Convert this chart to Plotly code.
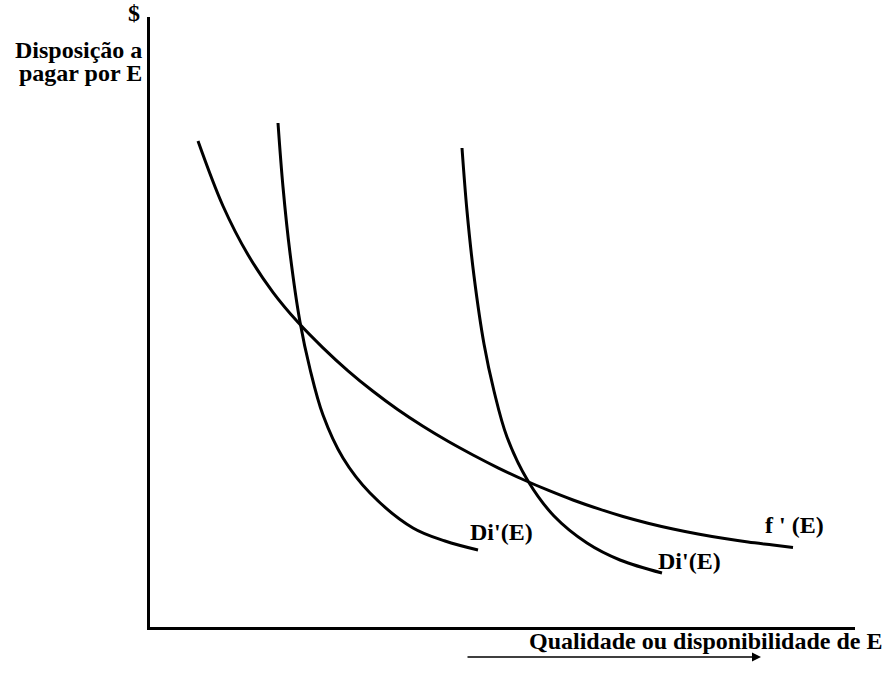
import plotly.graph_objects as go

# Curves (x = quality/availability of E, y = willingness to pay), arbitrary units
f_x = [48, 73, 98, 123, 148, 173, 198, 223, 248, 273, 298, 323, 348, 373, 398, 423, 448,
       473, 498, 523, 548, 573, 598, 623, 643]
f_y = [486, 421, 372.2, 334.7, 304.7, 279.2, 256.2, 235.7, 217.2, 200.7, 185.7, 172, 159.2,
       147.5, 136.8, 127, 118.3, 110.5, 103.8, 98, 93, 88.7, 85, 82, 79.5]

d1_x = [128, 133, 140, 150, 160, 173, 193, 220, 263, 295, 328]
d1_y = [504, 440, 374, 305, 258, 212, 169, 134, 99, 86, 77]

d2_x = [312, 317, 324, 334, 344, 357, 378, 404, 437, 470, 512]
d2_y = [479, 416, 351, 283, 236, 190, 146, 111, 84, 67, 54]

labels = ["f ' (E)", "Di'(E)", "Di'(E)"]
y_title_top = "$"
y_title_1 = "Disposição a"
y_title_2 = "pagar por E"
x_title = "Qualidade ou disponibilidade de E"

FONT = "Liberation Serif"
line_style = dict(color="black", width=3, shape="spline", smoothing=1.0)

fig = go.Figure()
fig.add_trace(go.Scatter(x=f_x, y=f_y, mode="lines", line=line_style, hoverinfo="skip"))
fig.add_trace(go.Scatter(x=d1_x, y=d1_y, mode="lines", line=line_style, hoverinfo="skip"))
fig.add_trace(go.Scatter(x=d2_x, y=d2_y, mode="lines", line=line_style, hoverinfo="skip"))

# plot area in pixels: left 150, top 17, width 705, height 610
L, T, W, H = 150, 17, 705, 610
def px(xp):
    return (xp - L) / W
def py(yp):
    return (T + H - yp) / H

tf = dict(family=FONT, size=24, color="black")
def txt(text, x, y, xanchor="left"):
    return dict(x=px(x), y=py(y), xref="paper", yref="paper", text="<b>%s</b>" % text,
                showarrow=False, xanchor=xanchor, yanchor="middle", font=tf, borderpad=0)

ann = [
    txt(labels[0], 764, 525),
    txt(labels[1], 469, 532),
    txt(labels[2], 657, 561),
    txt(y_title_top, 141, 13, "right"),
    txt(y_title_1, 143, 50, "right"),
    txt(y_title_2, 143, 73, "right"),
    txt(x_title, 883, 641, "right"),
    dict(x=px(761), y=py(657), xref="paper", yref="paper", ax=-295, ay=0, axref="pixel", ayref="pixel",
         text="", showarrow=True, arrowhead=2, arrowsize=1.2, arrowwidth=1.5, arrowcolor="black"),
]

fig.update_layout(
    width=886, height=688,
    margin=dict(l=L, r=886 - L - W, t=T, b=688 - T - H),
    plot_bgcolor="white", paper_bgcolor="white",
    showlegend=False,
    annotations=ann,
    xaxis=dict(range=[0, 705], showgrid=False, zeroline=False, showticklabels=False, ticks="",
               showline=True, linecolor="black", linewidth=3, fixedrange=True),
    yaxis=dict(range=[0, 610], showgrid=False, zeroline=False, showticklabels=False, ticks="",
               showline=True, linecolor="black", linewidth=3, fixedrange=True),
)
fig.write_html("out.html", config={"displayModeBar": False},
               post_script="document.body.style.margin='0';")
